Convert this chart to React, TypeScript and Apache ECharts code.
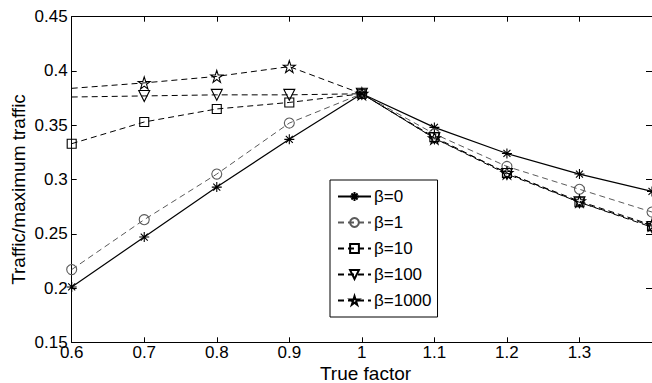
import React, { useEffect, useRef } from "react";
import * as echarts from "echarts";

const xValues = [0.6, 0.7, 0.8, 0.9, 1.0, 1.1, 1.2, 1.3, 1.4];
const seriesNames = ["β=0", "β=1", "β=10", "β=100", "β=1000"];
const beta0 = [0.201, 0.247, 0.293, 0.337, 0.379, 0.348, 0.324, 0.305, 0.289];
const beta1 = [0.217, 0.263, 0.305, 0.352, 0.379, 0.342, 0.312, 0.291, 0.27];
const beta10 = [0.333, 0.353, 0.365, 0.371, 0.379, 0.339, 0.306, 0.279, 0.257];
const beta100 = [0.376, 0.377, 0.378, 0.378, 0.379, 0.338, 0.305, 0.279, 0.256];
const beta1000 = [0.384, 0.389, 0.395, 0.404, 0.379, 0.338, 0.306, 0.28, 0.258];
const xTitle = "True factor";
const yTitle = "Traffic/maximum traffic";

const FONT = "'Liberation Sans', Arial, Helvetica, sans-serif";

const ASTERISK = "path://M5 0L5 10M0 5L10 5M1.5 1.5L8.5 8.5M8.5 1.5L1.5 8.5";
const TRI_DOWN = "path://M0 0L10 0L5 9Z";
const PENTAGRAM =
  "path://M5 0L6.123 3.455L9.755 3.455L6.817 5.59L7.939 9.045L5 6.91L2.061 9.045L3.183 5.59L0.245 3.455L3.877 3.455Z";

export default function App() {
  const ref = useRef<HTMLDivElement>(null);
  useEffect(() => {
    if (!ref.current) return;
    const chart = echarts.init(ref.current, undefined, { renderer: "svg" });

    const mk = (
      name: string,
      vals: number[],
      symbol: string,
      size: number,
      color: string,
      dashed: boolean,
      fill: string,
      hideFirst: boolean
    ) => ({
      name,
      type: "line",
      data: xValues.map((x, i) =>
        hideFirst && i === 0 ? { value: [x, vals[i]], symbol: "none" } : [x, vals[i]]
      ),
      symbol,
      symbolSize: size,
      showAllSymbol: true,
      clip: false,
      lineStyle: { color, width: dashed ? 1 : 1.2, type: dashed ? [6, 4] : "solid" },
      itemStyle: { color: fill, borderColor: color, borderWidth: 1.1 },
      emphasis: { disabled: true },
    });

    const option: any = {
      animation: false,
      textStyle: { fontFamily: FONT },
      grid: { left: 71.7, top: 16.7, bottom: 40.7, right: -4.5, containLabel: false },
      xAxis: [
        {
          type: "value",
          min: 0.6,
          max: 1.4,
          interval: 0.1,
          position: "bottom",
          axisLine: { show: true, lineStyle: { color: "#000", width: 1 } },
          axisTick: { show: true, inside: true, length: 5, lineStyle: { color: "#000" } },
          axisLabel: {
            show: true,
            margin: 2,
            color: "#000",
            fontSize: 17,
            fontFamily: FONT,
            showMaxLabel: false,
            formatter: (v: number) => String(+v.toFixed(2)),
          },
          splitLine: { show: false },
        },
        {
          type: "value",
          min: 0.6,
          max: 1.4,
          interval: 0.1,
          position: "top",
          axisLine: { show: true, lineStyle: { color: "#000", width: 1 } },
          axisTick: { show: true, inside: true, length: 5, lineStyle: { color: "#000" } },
          axisLabel: { show: false },
          splitLine: { show: false },
        },
      ],
      yAxis: [
        {
          type: "value",
          min: 0.15,
          max: 0.45,
          interval: 0.05,
          position: "left",
          axisLine: { show: true, lineStyle: { color: "#000", width: 1 } },
          axisTick: { show: true, inside: true, length: 5, lineStyle: { color: "#000" } },
          axisLabel: {
            show: true,
            margin: 4,
            color: "#000",
            fontSize: 17,
            fontFamily: FONT,
            formatter: (v: number) => String(+v.toFixed(2)),
          },
          splitLine: { show: false },
        },
        {
          type: "value",
          min: 0.15,
          max: 0.45,
          interval: 0.05,
          position: "right",
          axisLine: { show: true, lineStyle: { color: "#000", width: 1 } },
          axisTick: { show: true, inside: true, length: 6, lineStyle: { color: "#000" } },
          axisLabel: { show: false },
          splitLine: { show: false },
        },
      ],
      legend: {
        show: true,
        orient: "vertical",
        left: 330,
        top: 180,
        data: seriesNames,
        backgroundColor: "#fff",
        borderColor: "#000",
        borderWidth: 1,
        borderRadius: 0,
        padding: [8, 6, 8, 7],
        itemGap: 9,
        itemWidth: 33,
        itemHeight: 11,
        selectedMode: false,
        textStyle: { color: "#000", fontSize: 17, fontFamily: FONT, padding: [0, 0, 0, -2] },
      },
      graphic: [
        {
          type: "text",
          x: 365.5,
          y: 373.5,
          style: {
            text: xTitle,
            fontSize: 19,
            fontFamily: FONT,
            fill: "#000",
            textAlign: "center",
            textVerticalAlign: "middle",
          },
        },
        {
          type: "text",
          x: 18.2,
          y: 189.5,
          rotation: Math.PI / 2,
          style: {
            text: yTitle,
            fontSize: 19,
            fontFamily: FONT,
            fill: "#000",
            textAlign: "center",
            textVerticalAlign: "middle",
          },
        },
      ],
      series: [
        mk(seriesNames[0], beta0, ASTERISK, 10, "#000", false, "#000", false),
        mk(seriesNames[1], beta1, "circle", 10, "#5a5a5a", true, "rgba(0,0,0,0)", false),
        mk(seriesNames[2], beta10, "rect", 9, "#000", true, "rgba(0,0,0,0)", false),
        mk(seriesNames[3], beta100, TRI_DOWN, 11, "#000", true, "rgba(0,0,0,0)", true),
        mk(seriesNames[4], beta1000, PENTAGRAM, 12, "#000", true, "rgba(0,0,0,0)", true),
      ],
    };
    chart.setOption(option);
    return () => chart.dispose();
  }, []);
  return (
    <div
      ref={ref}
      style={{ position: "fixed", left: 0, top: 0, width: 652, height: 383, background: "#fff" }}
    />
  );
}
